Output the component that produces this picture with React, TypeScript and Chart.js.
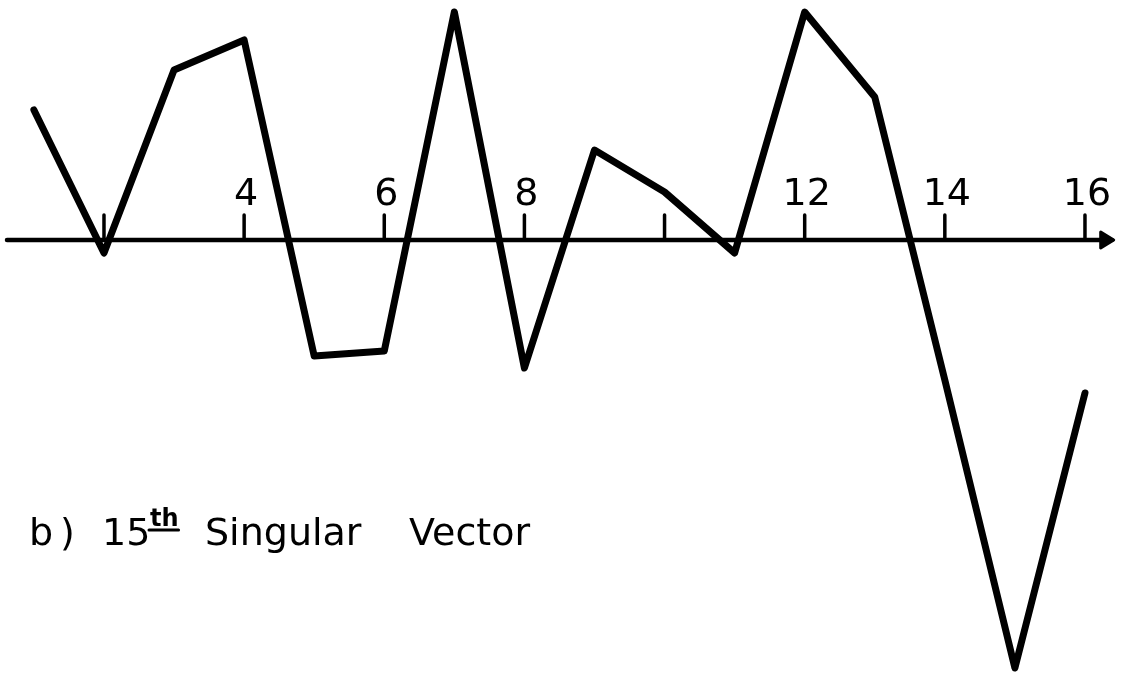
import React, { useEffect, useRef } from "react";
import { Chart, registerables } from "chart.js";

Chart.register(...registerables);

// ---- data ----
const indices = [1, 2, 3, 4, 5, 6, 7, 8, 9, 10, 11, 12, 13, 14, 15, 16];
const vectorValues = [1.3, -0.13, 1.7, 2.0, -1.16, -1.11, 2.28, -1.28, 0.9, 0.48, -0.13, 2.28, 1.43, -1.4, -4.28, -1.53];
const tickValues = [2, 4, 6, 8, 10, 12, 14, 16];
const tickLabels = ["", "4", "6", "8", "", "12", "14", "16"];
const captionLead = "b)";
const captionNumber = "15";
const captionSuffix = "th";
const captionWords = ["Singular", "Vector"];

const X_MIN = 0.516;
const X_MAX = 16.557;
const Y_MIN = -4.36;
const Y_MAX = 2.4;
const AXIS_START = 0.616;
const AXIS_END = 16.41;

const FONT = '"DejaVu Sans", "Liberation Sans", sans-serif';

const axisPlugin = {
  id: "handAxis",
  beforeDatasetsDraw(chart: any) {
    const ctx = chart.ctx as CanvasRenderingContext2D;
    const xs = chart.scales.x;
    const ys = chart.scales.y;
    const y0 = ys.getPixelForValue(0);
    const xa = xs.getPixelForValue(AXIS_START);
    const xb = xs.getPixelForValue(AXIS_END);
    ctx.save();
    ctx.strokeStyle = "#000";
    ctx.fillStyle = "#000";
    ctx.lineCap = "round";
    ctx.lineJoin = "round";
    // axis line
    ctx.lineWidth = 4.5;
    ctx.beginPath();
    ctx.moveTo(xa, y0);
    ctx.lineTo(xb - 2, y0);
    ctx.stroke();
    // arrow head
    ctx.beginPath();
    ctx.moveTo(xb - 13, y0 - 8);
    ctx.lineTo(xb, y0);
    ctx.lineTo(xb - 13, y0 + 8);
    ctx.closePath();
    ctx.lineWidth = 3;
    ctx.fill();
    ctx.stroke();
    // ticks and labels
    ctx.lineWidth = 3.5;
    ctx.font = `38px ${FONT}`;
    ctx.textAlign = "center";
    ctx.textBaseline = "alphabetic";
    tickValues.forEach((v, i) => {
      const px = xs.getPixelForValue(v);
      ctx.beginPath();
      ctx.moveTo(px, y0);
      ctx.lineTo(px, y0 - 25);
      ctx.stroke();
      if (tickLabels[i]) ctx.fillText(tickLabels[i], px + 2, y0 - 35);
    });
    // caption
    const base = 545;
    ctx.textAlign = "left";
    ctx.font = `38px ${FONT}`;
    ctx.fillText(captionLead[0], 29, base);
    ctx.fillText(captionLead[1], 60, base);
    ctx.fillText(captionNumber, 102, base);
    ctx.font = `bold 24px ${FONT}`;
    ctx.fillText(captionSuffix, 150, base - 19);
    const w = ctx.measureText(captionSuffix).width;
    ctx.lineWidth = 3;
    ctx.beginPath();
    ctx.moveTo(149, base - 15);
    ctx.lineTo(150 + w, base - 15);
    ctx.stroke();
    ctx.font = `38px ${FONT}`;
    ctx.fillText(captionWords[0], 205, base);
    ctx.fillText(captionWords[1], 409, base);
    ctx.restore();
  },
};

export default function App() {
  const canvasRef = useRef<HTMLCanvasElement | null>(null);

  useEffect(() => {
    document.body.style.margin = "0";
    const canvas = canvasRef.current;
    if (!canvas) return;
    const chart = new Chart(canvas, {
      type: "line",
      data: {
        datasets: [
          {
            data: indices.map((x, i) => ({ x, y: vectorValues[i] })),
            borderColor: "#000",
            borderWidth: 7,
            borderJoinStyle: "round",
            borderCapStyle: "round",
            pointRadius: 0,
            tension: 0,
            fill: false,
          },
        ],
      },
      options: {
        animation: false,
        responsive: true,
        maintainAspectRatio: false,
        layout: { padding: 0 },
        plugins: { legend: { display: false }, tooltip: { enabled: false }, title: { display: false } },
        scales: {
          x: { type: "linear", min: X_MIN, max: X_MAX, display: false },
          y: { type: "linear", min: Y_MIN, max: Y_MAX, display: false },
        },
      },
      plugins: [axisPlugin],
    });
    return () => chart.destroy();
  }, []);

  return (
    <div style={{ position: "absolute", left: 0, top: 0, width: 1124, height: 676, background: "#fff" }}>
      <canvas ref={canvasRef} />
    </div>
  );
}
